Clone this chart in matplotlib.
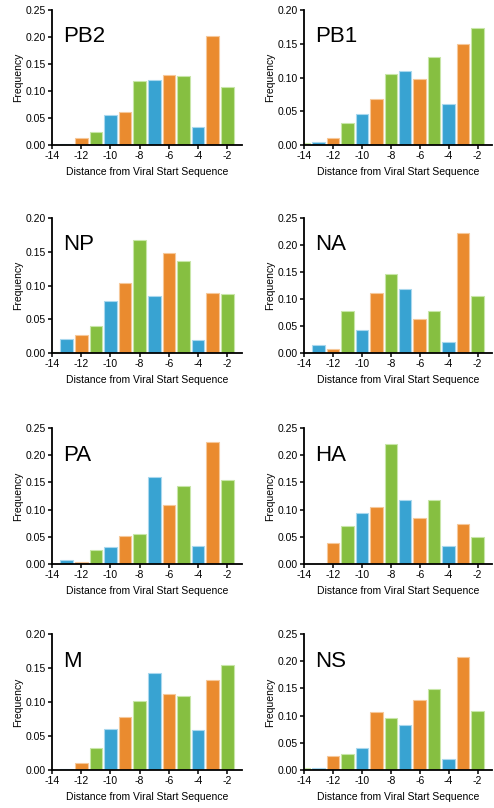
import matplotlib
matplotlib.use("Agg")
import matplotlib.pyplot as plt
import numpy as np

plt.rcParams['font.family'] = ['Liberation Sans', 'DejaVu Sans']
plt.rcParams['axes.unicode_minus'] = False

positions = [-14, -13, -12, -11, -10, -9, -8, -7, -6, -5, -4, -3, -2]
segments = ["PB2", "PB1", "NP", "NA", "PA", "HA", "M", "NS"]

pb2 = [0.0, 0.001, 0.013, 0.0235, 0.055, 0.062, 0.119, 0.120, 0.130, 0.128, 0.034, 0.201, 0.108]
pb1 = [0.0035, 0.004, 0.010, 0.033, 0.046, 0.068, 0.1055, 0.109, 0.0985, 0.130, 0.061, 0.150, 0.174]
np_ = [0.002, 0.021, 0.026, 0.040, 0.077, 0.104, 0.167, 0.085, 0.148, 0.137, 0.020, 0.089, 0.087]
na = [0.0, 0.014, 0.008, 0.077, 0.042, 0.111, 0.146, 0.118, 0.063, 0.077, 0.021, 0.222, 0.105]
pa = [0.0, 0.008, 0.004, 0.026, 0.031, 0.052, 0.056, 0.160, 0.108, 0.1425, 0.034, 0.225, 0.155]
ha = [0.0, 0.0, 0.039, 0.069, 0.093, 0.104, 0.221, 0.118, 0.084, 0.118, 0.034, 0.074, 0.050]
m = [0.0, 0.001, 0.010, 0.033, 0.061, 0.078, 0.101, 0.142, 0.112, 0.109, 0.059, 0.133, 0.154]
ns = [0.004, 0.003, 0.025, 0.030, 0.041, 0.107, 0.096, 0.0835, 0.128, 0.149, 0.0195, 0.207, 0.109]

values = [pb2, pb1, np_, na, pa, ha, m, ns]
ymax = [0.25, 0.20, 0.20, 0.25, 0.25, 0.25, 0.20, 0.25]

# colour cycle: -14 green, -13 blue, -12 orange, ...
cycle = ["#86bf41", "#38a3d2", "#ea8b2f"]
edges = ["#c8e6a8", "#a9d8ee", "#f6c89a"]
colors = [cycle[i % 3] for i in range(len(positions))]
edgecols = [edges[i % 3] for i in range(len(positions))]

W, H = 494, 808
fig = plt.figure(figsize=(W / 100, H / 100), dpi=100)

# axes boxes in pixels: left, bottom(px from top), right, top(px from top)
lefts = [52, 304]
bottoms = [145, 353, 564, 770]
tops = [10, 218, 428, 634]
rights = [242, 492]

for k, name in enumerate(segments):
    r, c = divmod(k, 2)
    l, rr = lefts[c], rights[c]
    b, t = bottoms[r], tops[r]
    ax = fig.add_axes([l / W, 1 - b / H, (rr - l) / W, (b - t) / H])
    ax.bar(positions, values[k], width=0.86, color=colors, edgecolor=edgecols,
           linewidth=0.8, zorder=2)
    ax.set_xlim(-14, -1)
    ax.set_ylim(0, ymax[k])
    ax.set_xticks(range(-14, -1, 2))
    ax.set_yticks(np.arange(0, ymax[k] + 0.001, 0.05))
    ax.yaxis.set_major_formatter(matplotlib.ticker.FormatStrFormatter('%.2f'))
    for s in ["top", "right"]:
        ax.spines[s].set_visible(False)
    for s in ["left", "bottom"]:
        ax.spines[s].set_linewidth(1.3)
        ax.spines[s].set_zorder(3)
    ax.tick_params(axis="both", direction="out", length=3, width=1.1,
                   labelsize=7.5, pad=1.5)
    ax.set_xlabel("Distance from Viral Start Sequence", fontsize=7.5, labelpad=4)
    ax.set_ylabel("Frequency", fontsize=7.5, labelpad=2)
    ax.text(0.06, 0.8, name, transform=ax.transAxes, fontsize=16,
            va="center", ha="left")

fig.savefig("out.png", dpi=100)
